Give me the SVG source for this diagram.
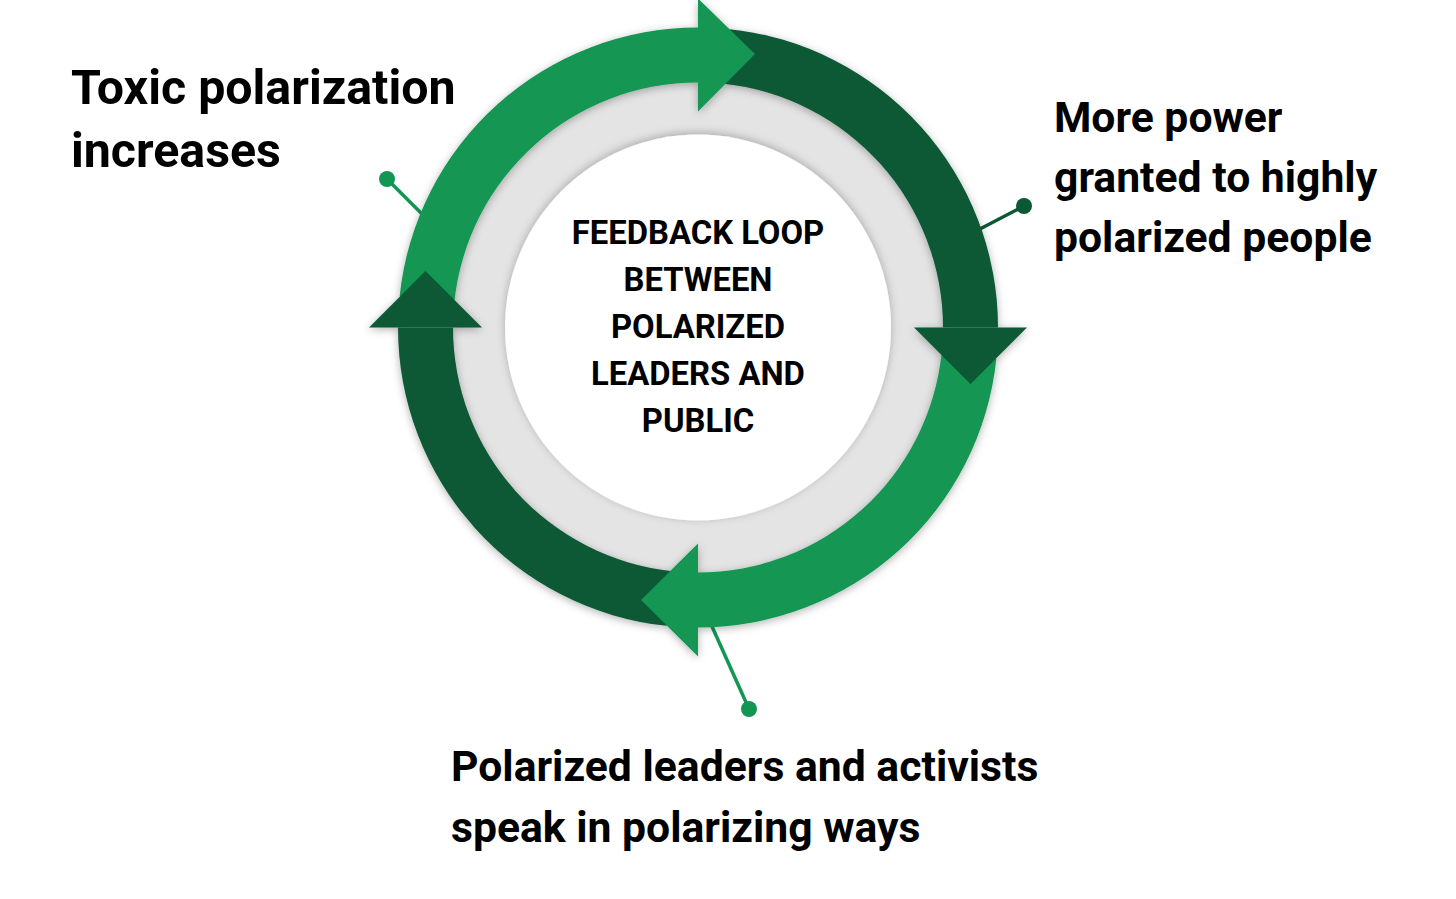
<svg xmlns="http://www.w3.org/2000/svg" width="1456" height="899" viewBox="0 0 1456 899">
  <defs>
    <filter id="sh" x="-20%" y="-20%" width="140%" height="140%">
      <feDropShadow dx="0" dy="2" stdDeviation="4" flood-color="#000" flood-opacity="0.3"/>
    </filter>
    <filter id="shIn" x="-20%" y="-20%" width="140%" height="140%">
      <feDropShadow dx="0" dy="-2" stdDeviation="4" flood-color="#000" flood-opacity="0.25"/>
    </filter>
  </defs>
  <style>
    .light { fill: #129653; }
    .dark { fill: #0a5834; }
    .lline { stroke: #129653; stroke-width: 3.5; fill: none; }
    .dline { stroke: #0a5834; stroke-width: 3.5; fill: none; }
    .label { font-family: Roboto, "Liberation Sans", sans-serif; font-weight: 700; fill: #000; }
    .center { font-family: Roboto, "Liberation Sans", sans-serif; font-weight: 700; font-size: 32.8px; fill: #000; text-anchor: middle; }
  </style>
  <rect width="1456" height="899" fill="#ffffff"/>

  <g id="connectors">
    <line class="lline" x1="387" y1="179" x2="424" y2="216"/>
    <circle class="light" cx="387" cy="179" r="8"/>
    <line class="dline" x1="1024" y1="206" x2="978" y2="230"/>
    <circle class="dark" cx="1024" cy="206" r="8"/>
    <line class="lline" x1="710" y1="622" x2="749" y2="709"/>
    <circle class="light" cx="749" cy="709" r="8"/>
  </g>

  <g id="hub">
    <circle cx="698" cy="327.5" r="246" fill="#e4e4e4"/>
    <circle cx="698" cy="327.5" r="193" fill="#ffffff" filter="url(#shIn)"/>
  </g>

  <g id="ring" filter="url(#sh)">
    <path id="band-top-right" class="dark" d="M 729.36 29.14 A 300 300 0 0 1 998 327.5 L 943 327.5 A 245 245 0 0 0 723.61 83.84 Z"/>
    <path id="band-bottom-right" class="light" d="M 996.36 358.86 A 300 300 0 0 1 698 627.5 L 698 572.5 A 245 245 0 0 0 941.66 353.11 Z"/>
    <path id="band-bottom-left" class="dark" d="M 666.64 625.86 A 300 300 0 0 1 398 327.5 L 453 327.5 A 245 245 0 0 0 672.39 571.16 Z"/>
    <path id="band-top-left" class="light" d="M 399.64 296.14 A 300 300 0 0 1 698 27.5 L 698 82.5 A 245 245 0 0 0 454.34 301.89 Z"/>
    <polygon id="head-top" class="light" points="698,-1.5 755,54 698,111.5"/>
    <polygon id="head-right" class="dark" points="1027,327.5 970.5,384 914,327.5"/>
    <polygon id="head-bottom" class="light" points="698,656.5 641,600 698,543.5"/>
    <polygon id="head-left" class="dark" points="369,327.5 425.5,271 482,327.5"/>
  </g>

  <g id="center-label">
    <text class="center" x="698" y="244">FEEDBACK LOOP</text>
    <text class="center" x="698" y="291">BETWEEN</text>
    <text class="center" x="698" y="338">POLARIZED</text>
    <text class="center" x="698" y="384.5">LEADERS AND</text>
    <text class="center" x="698" y="431.5">PUBLIC</text>
  </g>

  <g id="label-toxic">
    <text class="label" x="71" y="104" font-size="48.3">Toxic polarization</text>
    <text class="label" x="71" y="167" font-size="48.3">increases</text>
  </g>

  <g id="label-power">
    <text class="label" x="1054" y="132" font-size="42.7">More power</text>
    <text class="label" x="1054" y="192" font-size="42.7">granted to highly</text>
    <text class="label" x="1054" y="252" font-size="42.7">polarized people</text>
  </g>

  <g id="label-speak">
    <text class="label" x="451" y="781" font-size="42.7">Polarized leaders and activists</text>
    <text class="label" x="451" y="842" font-size="42.7">speak in polarizing ways</text>
  </g>
</svg>
